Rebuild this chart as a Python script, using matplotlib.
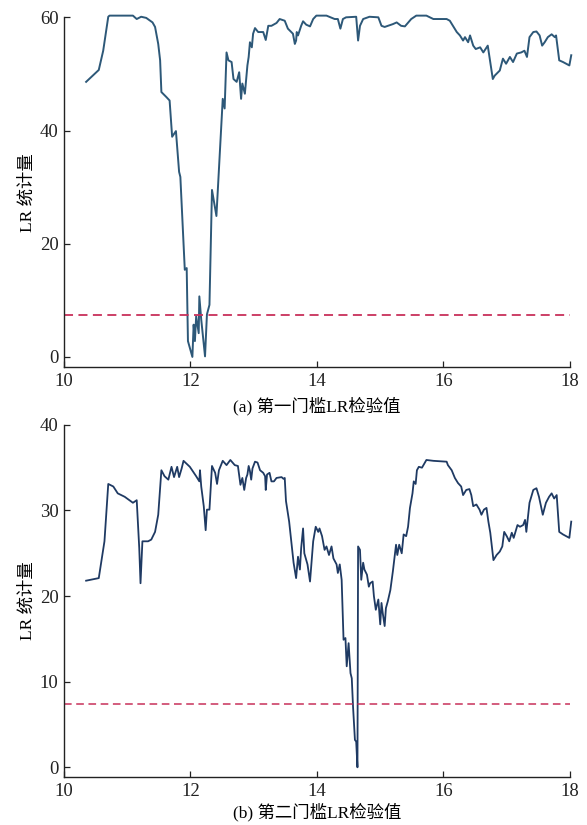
import matplotlib
matplotlib.use("Agg")
import matplotlib.pyplot as plt

plt.rcParams['font.family'] = ['Liberation Serif', 'Noto Sans CJK SC']
plt.rcParams['axes.unicode_minus'] = False

# threshold critical value (dashed line)
crit = 7.35

# first threshold LR statistics
x1 = [10.35, 10.55, 10.62, 10.70, 10.72, 10.90, 11.09, 11.15, 11.22, 11.30, 11.40, 11.44,
      11.49, 11.52, 11.54, 11.62, 11.67, 11.71, 11.77, 11.82, 11.84, 11.91, 11.94, 11.96,
      12.03, 12.05, 12.07, 12.09, 12.13, 12.14, 12.17, 12.23, 12.26, 12.30, 12.34, 12.41,
      12.51, 12.54, 12.57, 12.60, 12.65, 12.68, 12.73, 12.77, 12.80, 12.82, 12.86, 12.90,
      12.92, 12.94, 12.97, 12.99, 13.02, 13.07, 13.15, 13.19, 13.23, 13.28, 13.36, 13.41,
      13.49, 13.54, 13.62, 13.65, 13.67, 13.68, 13.70, 13.75, 13.78, 13.83, 13.89, 13.94,
      13.99, 14.15, 14.28, 14.33, 14.37, 14.41, 14.46, 14.62, 14.65, 14.68, 14.73, 14.83,
      14.97, 15.02, 15.07, 15.20, 15.26, 15.33, 15.39, 15.49, 15.57, 15.73, 15.84, 16.05,
      16.10, 16.15, 16.21, 16.26, 16.31, 16.34, 16.39, 16.42, 16.47, 16.51, 16.58, 16.63,
      16.70, 16.74, 16.78, 16.81, 16.89, 16.94, 16.99, 17.05, 17.10, 17.16, 17.23, 17.28,
      17.32, 17.36, 17.42, 17.47, 17.52, 17.56, 17.60, 17.65, 17.71, 17.76, 17.78, 17.83,
      17.89, 17.99, 18.02]
lr1 = [48.6, 50.7, 54.1, 60.1, 60.3, 60.3, 60.3, 59.7, 60.1, 59.9, 59.1, 58.3,
       55.3, 52.4, 46.8, 45.9, 45.3, 38.9, 39.9, 32.7, 31.8, 15.4, 15.7, 2.8,
       0.0, 5.7, 2.8, 7.2, 4.2, 10.7, 6.6, 0.1, 7.5, 9.2, 29.5, 24.9,
       45.6, 43.9, 53.8, 52.4, 52.1, 49.1, 48.6, 50.3, 45.6, 48.3, 46.5, 51.5,
       53.0, 55.6, 54.7, 57.1, 58.1, 57.4, 57.4, 56.0, 58.5, 58.5, 59.0, 59.7,
       59.4, 58.0, 57.1, 55.3, 55.9, 57.4, 56.8, 58.5, 59.3, 58.7, 58.4, 59.7,
       60.3, 60.3, 59.7, 59.7, 58.0, 59.7, 60.0, 60.1, 55.9, 58.5, 59.7, 60.1,
       60.0, 58.5, 58.3, 58.8, 59.1, 58.5, 58.4, 59.7, 60.3, 60.3, 59.7, 59.7,
       59.4, 58.5, 57.4, 56.8, 55.9, 56.5, 55.6, 56.8, 55.0, 54.4, 54.7, 53.8,
       55.0, 52.1, 49.1, 49.7, 50.6, 52.7, 51.8, 53.0, 52.1, 53.6, 53.8, 54.1,
       53.0, 56.5, 57.4, 57.5, 56.8, 55.0, 55.6, 56.5, 57.0, 56.5, 56.8, 52.4,
       52.1, 51.5, 53.3]

# second threshold LR statistics
x2 = [10.35, 10.55, 10.64, 10.70, 10.78, 10.85, 10.96, 11.09, 11.15, 11.19, 11.21, 11.24,
      11.33, 11.38, 11.44, 11.49, 11.54, 11.59, 11.65, 11.70, 11.74, 11.79, 11.82, 11.86,
      11.89, 11.99, 12.09, 12.14, 12.15, 12.17, 12.21, 12.24, 12.26, 12.30, 12.34, 12.39,
      12.42, 12.45, 12.51, 12.57, 12.63, 12.70, 12.75, 12.79, 12.82, 12.85, 12.88, 12.90,
      12.92, 12.94, 12.96, 12.98, 13.02, 13.06, 13.10, 13.15, 13.18, 13.19, 13.21, 13.25,
      13.28, 13.32, 13.36, 13.44, 13.47, 13.49, 13.51, 13.56, 13.59, 13.63, 13.67, 13.70,
      13.73, 13.75, 13.78, 13.80, 13.85, 13.89, 13.94, 13.98, 14.02, 14.04, 14.08, 14.12,
      14.15, 14.19, 14.23, 14.26, 14.31, 14.33, 14.36, 14.39, 14.42, 14.45, 14.47, 14.50,
      14.53, 14.55, 14.57, 14.60, 14.62, 14.64, 14.65, 14.68, 14.70, 14.73, 14.75, 14.79,
      14.82, 14.84, 14.88, 14.90, 14.93, 14.97, 15.00, 15.02, 15.04, 15.07, 15.09, 15.12,
      15.16, 15.20, 15.25, 15.27, 15.30, 15.34, 15.37, 15.41, 15.44, 15.47, 15.51, 15.53,
      15.56, 15.58, 15.61, 15.66, 15.73, 15.84, 16.05, 16.07, 16.13, 16.18, 16.23, 16.28,
      16.31, 16.36, 16.41, 16.44, 16.47, 16.52, 16.57, 16.60, 16.64, 16.68, 16.71, 16.74,
      16.79, 16.84, 16.89, 16.93, 16.96, 17.00, 17.04, 17.08, 17.11, 17.17, 17.21, 17.26,
      17.29, 17.31, 17.36, 17.42, 17.47, 17.51, 17.57, 17.62, 17.67, 17.71, 17.75, 17.79,
      17.83, 17.89, 17.99, 18.02]
lr2 = [21.8, 22.1, 26.4, 33.1, 32.8, 32.0, 31.6, 30.9, 31.2, 25.6, 21.5, 26.4,
       26.4, 26.6, 27.5, 29.5, 34.7, 34.0, 33.6, 35.1, 33.9, 35.1, 33.9, 34.9,
       35.8, 35.1, 34.0, 33.4, 34.7, 32.8, 30.5, 27.7, 30.1, 30.1, 35.2, 34.4,
       33.1, 34.7, 35.8, 35.3, 35.9, 35.3, 35.2, 33.0, 33.8, 32.4, 33.8, 34.2,
       35.2, 34.6, 33.6, 34.9, 35.7, 35.6, 34.7, 34.4, 34.0, 32.4, 34.2, 34.4,
       33.4, 33.4, 33.8, 33.9, 33.7, 33.8, 31.1, 28.7, 26.6, 23.9, 22.1, 24.6,
       23.1, 25.6, 27.9, 25.0, 23.7, 21.7, 26.4, 28.1, 27.5, 27.9, 27.0, 25.4,
       25.8, 24.8, 25.8, 24.4, 23.7, 22.7, 23.7, 21.9, 14.9, 15.1, 11.8, 14.5,
       11.0, 10.4, 7.1, 3.2, 3.0, 0.0, 25.8, 25.4, 21.9, 23.9, 23.1, 22.5,
       21.1, 21.5, 21.7, 20.0, 18.4, 19.6, 16.7, 19.2, 18.0, 16.5, 18.6, 19.4,
       20.7, 22.9, 26.0, 24.8, 26.0, 25.0, 27.2, 27.0, 28.1, 30.3, 32.0, 33.4,
       33.1, 34.7, 35.1, 35.0, 35.9, 35.8, 35.7, 35.3, 34.7, 33.8, 33.2, 32.8,
       31.8, 32.4, 32.5, 31.8, 30.5, 30.7, 30.1, 29.5, 30.1, 30.3, 28.7, 27.4,
       24.2, 24.8, 25.2, 25.8, 27.5, 27.0, 26.4, 27.4, 26.8, 28.3, 28.1, 28.3,
       28.9, 27.5, 30.9, 32.4, 32.6, 31.6, 29.5, 30.9, 31.6, 32.0, 31.4, 31.8,
       27.5, 27.2, 26.8, 28.7]

fig = plt.figure(figsize=(5.87, 8.25), dpi=100)
ax1 = fig.add_axes([0.109, 0.555, 0.862, 0.424])
ax2 = fig.add_axes([0.109, 0.058, 0.862, 0.427])


def style(ax, ylim, yticks, caption, cap_pad):
    ax.set_xlim(10, 18)
    ax.set_ylim(*ylim)
    ax.set_xticks([10, 12, 14, 16, 18])
    ax.set_yticks(yticks)
    for s in ['top', 'right']:
        ax.spines[s].set_visible(False)
    for s in ['left', 'bottom']:
        ax.spines[s].set_linewidth(1.0)
        ax.spines[s].set_color('#222222')
    ax.tick_params(direction='in', length=4, width=0.9, labelsize=13.5,
                   colors='#222222', pad=4)
    ax.set_ylabel('LR 统计量', fontsize=12.5, labelpad=3)
    ax.set_xlabel(caption, fontsize=12.5, labelpad=cap_pad)


ax1.plot(x1, lr1, color='#2d5878', lw=1.4, clip_on=False)
ax1.axhline(crit, color='#c8305a', lw=1.3, ls=(0, (5, 3)))
style(ax1, (-1.8, 60), [0, 20, 40, 60], '(a) 第一门槛LR检验值', 5)

ax2.plot(x2, lr2, color='#1f3a63', lw=1.3, clip_on=False)
ax2.axhline(crit, color='#c8305a', lw=1.1, ls=(0, (5, 3)))
style(ax2, (-1.15, 40), [0, 10, 20, 30, 40], '(b) 第二门槛LR检验值', 2)

fig.savefig('out.png', dpi=100)
